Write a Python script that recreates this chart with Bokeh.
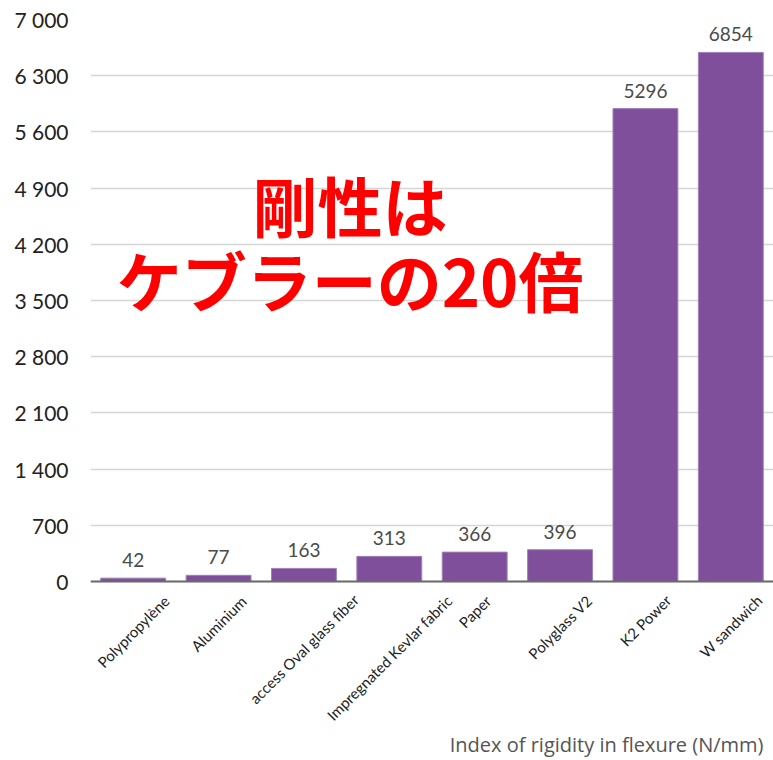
import math
from bokeh.plotting import figure
from bokeh.models import ColumnDataSource, FactorRange, Range1d, FixedTicker, LabelSet, Label, Span
from bokeh.core.properties import value
from bokeh.embed import file_html
from bokeh.resources import INLINE

# ---- data ----
materials = ["Polypropylène", "Aluminium", "access Oval glass fiber",
             "Impregnated Kevlar fabric", "Paper", "Polyglass V2",
             "K2 Power", "W sandwich"]
printed_values = [42, 77, 163, 313, 366, 396, 5296, 6854]
# bar heights as drawn in the picture (the two tallest bars are not to scale there)
drawn_heights = [42, 77, 163, 313, 366, 396, 5890, 6590]
y_ticks = [0, 700, 1400, 2100, 2800, 3500, 4200, 4900, 5600, 6300, 7000]
y_tick_labels = ["0", "700", "1 400", "2 100", "2 800", "3 500",
                 "4 200", "4 900", "5 600", "6 300", "7 000"]
axis_title = "Index of rigidity in flexure (N/mm)"
headline_1 = "剛性は"
headline_2 = "ケブラーの20倍"

# ---- layout ----
W, H = 773, 760
TOP = 19          # pixel row of the 7 000 line
ZERO = 581        # pixel row of the 0 line
Y_MAX = 7000
units_per_px = Y_MAX / (ZERO - TOP)
y_start = -(H - ZERO) * units_per_px   # frame continues below zero to hold the labels

LABEL_PX = 15
_W = {"i": .25, "l": .25, "j": .25, "f": .33, "t": .35, "r": .37, "s": .43,
      "c": .47, "z": .45, "x": .49, "v": .5, "y": .5, "k": .5, "g": .5,
      "a": .51, "e": .52, "è": .52, "m": .85, "w": .77, " ": .19,
      "I": .28, "W": .98, "K": .62, "P": .58, "V": .68, "A": .68, "O": .76}


def est_width(s, px):
    return sum(_W.get(ch, .58 if ch.isupper() or ch.isdigit() else .56) for ch in s) * px


# rotated labels: centred under each bar, top of the text a fixed gap below the axis
lab_offsets = [-(12 + 0.3536 * (est_width(m, LABEL_PX) + 13)) for m in materials]

src = ColumnDataSource(dict(
    material=materials,
    height=drawn_heights,
    label=[str(v) for v in printed_values],
    lab_y=[0] * len(materials),
    lab_off=lab_offsets,
))

p = figure(x_range=FactorRange(*materials), y_range=Range1d(y_start, Y_MAX),
           width=W, height=H, output_backend="svg", toolbar_location=None,
           min_border_left=90, min_border_right=0, min_border_top=TOP,
           min_border_bottom=0)
p.outline_line_color = None
p.background_fill_color = "white"
p.border_fill_color = "white"

p.xgrid.grid_line_color = None
p.ygrid.ticker = FixedTicker(ticks=y_ticks)
p.ygrid.grid_line_color = "#d5d5d5"
p.ygrid.grid_line_width = 1.6

p.yaxis.ticker = FixedTicker(ticks=y_ticks)
p.yaxis.major_label_overrides = {t: l for t, l in zip(y_ticks, y_tick_labels)}
p.yaxis.axis_line_color = None
p.yaxis.major_tick_line_color = None
p.yaxis.minor_tick_line_color = None
p.yaxis.major_label_standoff = 16
p.yaxis.major_label_text_font = "Lato"
p.yaxis.major_label_text_font_size = "21px"
p.yaxis.major_label_text_color = "#222222"

p.xaxis.visible = False

p.vbar(x="material", top="height", width=0.76, source=src,
       fill_color="#7f4f9b", line_color="#a080b8", line_width=1)

p.add_layout(Span(location=0, dimension="width", line_color="#6b6b6b", line_width=2))

p.add_layout(LabelSet(x="material", y="height", text="label", source=src,
                      y_offset=11, text_align="center", text_baseline="alphabetic",
                      text_font=value("Lato"), text_font_size="19px",
                      text_color="#4a4a4a"))

p.add_layout(LabelSet(x="material", y="lab_y", text="material", source=src,
                      y_offset="lab_off", angle=math.pi / 4,
                      text_align="center", text_baseline="middle",
                      text_font=value("Lato"), text_font_size=f"{LABEL_PX}px",
                      text_color="#222222"))

for txt, yv in ((headline_1, 4708), (headline_2, 3774)):
    p.add_layout(Label(x=3.04, y=yv, text=txt, text_align="center",
                       text_baseline="middle", text_font="Noto Sans CJK JP",
                       text_font_style="bold", text_font_size="65px",
                       text_color="#ff0000"))

p.add_layout(Label(x=len(materials), y=16, y_units="screen", x_offset=-10,
                   text=axis_title, text_align="right", text_baseline="middle",
                   text_font="Open Sans", text_font_size="20px",
                   text_color="#555555"))

open("out.html", "w").write(file_html(p, INLINE))
